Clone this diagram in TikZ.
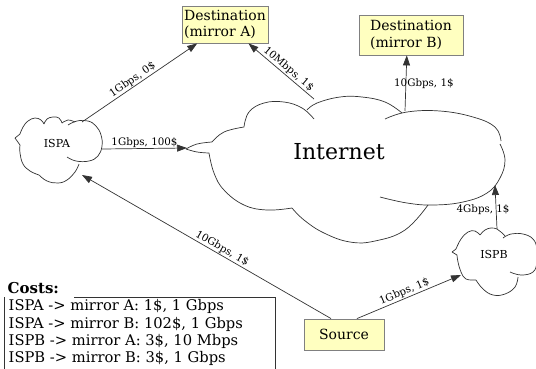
\documentclass[tikz,border=0pt]{standalone}
\usepackage{fontspec}
\setmainfont{DejaVu Serif}
\usetikzlibrary{arrows.meta,calc}
\definecolor{boxfill}{HTML}{FFFFC0}
\definecolor{boxedge}{HTML}{808080}
\definecolor{ink}{HTML}{333333}

\begin{document}
\begin{tikzpicture}[x=1pt,y=-1pt,
  box/.style={draw=boxedge, fill=boxfill, line width=0.8pt, align=left, inner sep=0pt,
              font=\fontsize{14}{16.5}\selectfont},
  link/.style={draw=ink, line width=0.7pt, -{Triangle[length=10pt,width=7pt]}},
  lbl/.style={font=\fontsize{10.3}{12}\selectfont, inner sep=1pt},
  cloudline/.style={draw=ink, line width=0.7pt},
  cloudlbl/.style={font=\fontsize{11}{13}\selectfont},
  lobe/.style={smooth, tension=0.7},
]
\useasboundingbox (0,0) rectangle (536,368);
\clip (0,0) rectangle (536,368);

% ---------- boxes ----------
\node[box, minimum width=86pt, minimum height=37pt] (destA) at (225,24.5) {Destination\\(mirror A)};
\node[box, minimum width=104pt, minimum height=40pt] (destB) at (411,35) {Destination\\(mirror B)};
\node[box, minimum width=80pt, minimum height=31pt] (source) at (344,334.5) {Source};

% ---------- cloud labels ----------
\node[font=\fontsize{22}{26}\selectfont] (internet) at (339,152) {Internet};
\node[cloudlbl] (ispa) at (57,143) {ISPA};
\node[cloudlbl] (ispb) at (494,254) {ISPB};

% ---------- Internet cloud ----------
\draw[cloudline] plot[lobe] coordinates {(186,149) (197,144) (212,142)};
\draw[cloudline] plot[lobe] coordinates {(212,142) (224,132) (244,127)};
\draw[cloudline] plot[lobe] coordinates {(244,127) (249,112) (264,103) (284,102) (302,108) (314,119)};
\draw[cloudline] plot[lobe] coordinates {(307,110) (317,103) (340,97) (362,97) (385,102) (402,113)};
\draw[cloudline] plot[lobe] coordinates {(385,119) (407,112) (440,111) (473,117) (495,127) (501,141)};
\draw[cloudline] plot[lobe] coordinates {(500,144) (505,160) (500,178) (487,193) (463,202) (433,205) (407,203) (380,197)};
\draw[cloudline] plot[lobe] coordinates {(428,205) (405,230) (375,241) (350,242) (324,233) (304,220) (292,208)};
\draw[cloudline] plot[lobe] coordinates {(292,208) (267,210) (244,205) (224,190) (214,173) (209,153)};
\draw[cloudline] plot[lobe] coordinates {(209,153) (197,152) (186,149)};

% ---------- ISPA cloud ----------
\draw[cloudline] plot[lobe] coordinates {(15,138) (20,134)};
\draw[cloudline] plot[lobe] coordinates {(20,134) (23,127) (28,121) (35,118) (41,120) (44,124)};
\draw[cloudline] plot[lobe] coordinates {(44,124) (47,119) (53,117) (59,118) (62,123)};
\draw[cloudline] plot[lobe] coordinates {(62,123) (68,120) (75,122)};
\draw[cloudline] plot[lobe] coordinates {(68,125) (77,121) (88,121) (96,126) (101,135) (102,146) (98,156) (89,161) (76,161) (67,157)};
\draw[cloudline] plot[lobe] coordinates {(79,164) (75,172) (67,180) (58,183) (47,181) (39,175)};
\draw[cloudline] plot[lobe] coordinates {(39,175) (30,171) (23,164) (20,153) (20,145)};
\draw[cloudline] plot[lobe] coordinates {(20,145) (15,138)};

% ---------- ISPB cloud ----------
\draw[cloudline] plot[lobe] coordinates {(452,252) (456,249)};
\draw[cloudline] plot[lobe] coordinates {(456,249) (461,239) (468,232) (475,231) (480,235)};
\draw[cloudline] plot[lobe] coordinates {(480,235) (485,230) (491,228) (497,229) (501,232) (505,236)};
\draw[cloudline] plot[lobe] coordinates {(503,238) (511,234) (523,234) (533,239) (537,249) (537,262) (533,272) (521,275) (510,272)};
\draw[cloudline] plot[lobe] coordinates {(518,277) (515,287) (505,294) (493,295) (483,289) (476,280)};
\draw[cloudline] plot[lobe] coordinates {(476,280) (466,279) (461,272) (458,262) (457,255)};
\draw[cloudline] plot[lobe] coordinates {(457,255) (452,252)};

% ---------- attachment points on the clouds ----------
\coordinate (ispa-ne) at (82,122);
\coordinate (ispa-e)  at (102,149);
\coordinate (ispa-se) at (82,175);
\coordinate (inet-w)  at (187,148);
\coordinate (inet-n1) at (314,99);
\coordinate (inet-n2) at (405,111);
\coordinate (inet-se) at (495,185);
\coordinate (ispb-n)  at (497,229);
\coordinate (ispb-w)  at (461,275);

% ---------- links ----------
\draw[link] (ispa-ne) -- node[lbl, sloped, above, pos=0.47] {1Gbps, 0\$}
  ($(destA.south west)!0.18!(destA.south east)$);
\draw[link] (inet-n1) -- node[lbl, sloped, above, pos=0.45] {10Mbps, 1\$}
  ($(destA.south west)!0.77!(destA.south east)$);
\draw[link] (inet-n2) -- node[lbl, pos=0.5, xshift=18pt] {10Gbps, 1\$}
  ($(destB.south west)!0.46!(destB.south east)$);
\draw[link] (ispa-e) -- node[lbl, above, pos=0.5] {1Gbps, 100\$} (inet-w);
\draw[link] ($(source.north west)!0.34!(source.north east)$) --
  node[lbl, sloped, above, pos=0.45] {10Gbps, 1\$} (ispa-se);
\draw[link] ($(source.north west)!0.66!(source.north east)$) --
  node[lbl, sloped, above, pos=0.48] {1Gbps, 1\$} (ispb-w);
\draw[link] (ispb-n) -- node[lbl, pos=0.45, xshift=-13pt] {4Gbps, 1\$} (inet-se);

% ---------- cost table ----------
\draw[draw=ink, line width=0.8pt] (4.5,375) -- (4.5,297);
\draw[draw=ink, line width=0.8pt] (74,297) -- (275,297) -- (275,375);
\node[font=\bfseries\fontsize{15}{18}\selectfont, anchor=base west, inner sep=0pt] (coststitle) at (7.5,293.5) {Costs:};
\node[anchor=north west, align=left, inner sep=0pt, font=\fontsize{14.7}{17.2}\selectfont] (costs) at (8.5,299.5)
  {ISPA -> mirror A: 1\$, 1 Gbps\\
   ISPA -> mirror B: 102\$, 1 Gbps\\
   ISPB -> mirror A: 3\$, 10 Mbps\\
   ISPB -> mirror B: 3\$, 1 Gbps};
\end{tikzpicture}
\end{document}
